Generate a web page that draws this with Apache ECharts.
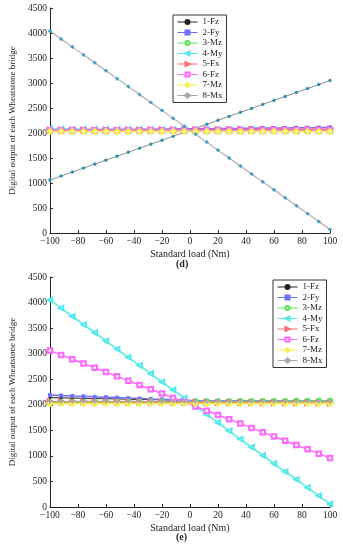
<!DOCTYPE html>
<html>
<head>
<meta charset="utf-8">
<script src="https://cdn.jsdelivr.net/npm/echarts@6/dist/echarts.min.js"></script>
<style>html,body{margin:0;padding:0;background:#fff;}#c{width:343px;height:550px;}</style>
</head>
<body>
<div id="c"></div>
<script>
// ---- data ----
const loads = [-100,-92,-84,-76,-68,-60,-52,-44,-36,-28,-20,-12,-4,4,12,20,28,36,44,52,60,68,76,84,92,100];
const seriesNames = ['1-Fz','2-Fy','3-Mz','4-My','5-Fx','6-Fz','7-Mz','8-Mx'];
const xTicks = [-100,-80,-60,-40,-20,0,20,40,60,80,100];
const yTicks = [0,500,1000,1500,2000,2500,3000,3500,4000,4500];

// chart (d)
const d_Fz1 = [1060,1140,1218,1298,1378,1457,1537,1616,1696,1776,1855,1935,2015,2094,2174,2254,2333,2413,2492,2572,2652,2731,2811,2890,2970,3050];
const d_Fy2 = [2058,2060,2063,2065,2066,2069,2071,2072,2075,2077,2079,2080,2083,2086,2087,2090,2092,2093,2096,2098,2099,2102,2104,2105,2108,2112];
const d_Mz3 = [2040,2041,2040,2042,2041,2040,2041,2042,2040,2041,2042,2041,2040,2041,2042,2041,2040,2042,2041,2040,2041,2042,2041,2040,2041,2042];
const d_My4 = [2082,2080,2079,2078,2076,2075,2074,2073,2071,2070,2069,2068,2066,2065,2064,2063,2061,2060,2059,2058,2056,2055,2054,2053,2051,2050];
const d_Fx5 = [2060,2061,2061,2062,2063,2063,2064,2065,2065,2066,2067,2067,2068,2069,2069,2070,2071,2071,2072,2073,2073,2074,2075,2075,2076,2077];
const d_Fz6 = [2052,2052,2053,2052,2051,2052,2053,2052,2052,2053,2052,2051,2052,2053,2052,2052,2053,2052,2051,2052,2053,2052,2052,2053,2052,2053];
const d_Mz7 = [2030,2031,2030,2029,2030,2031,2030,2030,2029,2031,2030,2030,2031,2030,2029,2030,2031,2030,2030,2029,2031,2030,2030,2031,2030,2029];
const d_Mx8 = [4040,3881,3722,3563,3405,3246,3087,2928,2769,2611,2452,2293,2134,1975,1817,1658,1499,1340,1181,1023,864,705,546,387,229,70];

// chart (e)
const e_Fz1 = [2140,2135,2131,2127,2122,2118,2114,2109,2105,2101,2096,2092,2088,2084,2083,2082,2081,2080,2079,2078,2077,2076,2075,2074,2073,2072];
const e_Fy2 = [2190,2182,2173,2165,2156,2148,2140,2131,2123,2114,2106,2098,2089,2080,2079,2078,2078,2077,2076,2075,2075,2074,2073,2072,2072,2071];
const e_Mz3 = [2050,2051,2052,2053,2054,2055,2056,2057,2058,2059,2060,2061,2062,2063,2064,2065,2066,2067,2068,2069,2070,2071,2072,2073,2074,2075];
const e_My4 = [4050,3890,3730,3570,3410,3250,3090,2930,2770,2610,2450,2290,2130,1970,1810,1650,1490,1330,1170,1010,850,690,540,380,220,60];
const e_Fx5 = [2060,2059,2058,2057,2056,2055,2053,2052,2051,2050,2049,2048,2047,2046,2045,2044,2043,2041,2040,2039,2038,2037,2036,2035,2034,2033];
const e_Fz6 = [3060,2976,2892,2808,2724,2640,2556,2472,2388,2304,2220,2136,2052,1968,1884,1800,1716,1632,1548,1464,1380,1296,1212,1128,1044,960];
const e_Mz7 = [2025,2026,2025,2024,2025,2026,2025,2025,2024,2026,2025,2025,2026,2025,2024,2025,2026,2025,2025,2024,2026,2025,2025,2026,2025,2024];
const e_Mx8 = [2066,2065,2066,2067,2066,2065,2066,2067,2066,2065,2066,2067,2066,2065,2066,2067,2066,2065,2066,2067,2066,2065,2066,2067,2066,2065];

const dData = [d_Fz1,d_Fy2,d_Mz3,d_My4,d_Fx5,d_Fz6,d_Mz7,d_Mx8];
const eData = [e_Fz1,e_Fy2,e_Mz3,e_My4,e_Fx5,e_Fz6,e_Mz7,e_Mx8];

// ---- styles ----
const PLUS = 'path://M4 0h2v4h4v2h-4v4h-2v-4h-4v-2h4z';
const styles = [
  {color:'#222222', symbol:'circle', size:2, rot:0, w:1},
  {color:'#7070ff', symbol:'rect', size:3, rot:0, w:1.5},
  {color:'#55e855', symbol:'emptyCircle', size:4.5, rot:0, w:1.5},
  {color:'#50eaea', symbol:'emptyTriangle', size:4.5, rot:90, w:1.5},
  {color:'#ff6a6a', symbol:'emptyTriangle', size:4.5, rot:-90, w:1.5},
  {color:'#ff66ff', symbol:'emptyRect', size:4.5, rot:0, w:1.5},
  {color:'#f2f24a', symbol:'emptyDiamond', size:5, rot:0, w:1.5},
  {color:'#a8a8a8', symbol:PLUS, size:4, rot:0, w:1.1}
];

const FONT = 'Liberation Serif';
const pairs = arr => loads.map((x,i)=>[x, arr[i]]);

function makeSeries(dataList, axisIdx, isD){
  return dataList.map((arr,i)=>{
    const s = styles[i];
    let lineColor = s.color, itemColor = s.color, sym = s.symbol, size = s.size;
    if (isD && i===0){ lineColor = '#8a8a8a'; itemColor = '#2f8fb0'; size = 2.5; }
    if (isD && i===7){ itemColor = '#3aa0c0'; size = 3; }
    return {
      type:'line', name: seriesNames[i],
      xAxisIndex: axisIdx, yAxisIndex: axisIdx,
      data: pairs(arr),
      symbol: sym, symbolSize: size, symbolRotate: s.rot,
      showAllSymbol: true,
      lineStyle:{color: lineColor, width: s.w},
      itemStyle:{color: itemColor, borderColor: itemColor, borderWidth: 1},
      emphasis:{disabled:true},
      animation:false
    };
  });
}

const legendData = seriesNames.map((n,i)=>({
  name:n,
  itemStyle:{color:styles[i].color, borderColor:styles[i].color},
  lineStyle:{color:styles[i].color, width:1}
}));

function xAxis(gi){
  return {
    type:'value', gridIndex: gi, min:-100, max:100, interval:20,
    name:'Standard load (Nm)', nameLocation:'middle', nameGap:16,
    nameTextStyle:{fontFamily:FONT, fontSize:10, color:'#222'},
    axisLine:{show:true, onZero:false, lineStyle:{color:'#222', width:1}},
    axisTick:{inside:true, length:3, lineStyle:{color:'#222'}},
    axisLabel:{fontFamily:FONT, fontSize:9.5, color:'#222', margin:3,
      formatter: v => v<0 ? '\u2212'+Math.abs(v) : String(v)},
    splitLine:{show:false}
  };
}
function yAxis(gi){
  return {
    type:'value', gridIndex: gi, min:0, max:4500, interval:500,
    name:'Digital output of each Wheatstone bridge', nameLocation:'middle', nameGap:26,
    nameTextStyle:{fontFamily:FONT, fontSize:9, color:'#222'},
    axisLine:{show:true, onZero:false, lineStyle:{color:'#222', width:1}},
    axisTick:{inside:true, length:3, lineStyle:{color:'#222'}},
    axisLabel:{fontFamily:FONT, fontSize:9.5, color:'#222', margin:3, formatter: v => String(v)},
    splitLine:{show:false}
  };
}
function legend(left, top){
  return {
    orient:'vertical', left:left, top:top,
    data: legendData,
    itemWidth:20, itemHeight:5, itemGap:0.5,
    padding:[2,4,2,4],
    borderColor:'#333', borderWidth:1, backgroundColor:'#fff',
    selectedMode:false,
    textStyle:{fontFamily:FONT, fontSize:9, color:'#222', lineHeight:10}
  };
}

const chart = echarts.init(document.getElementById('c'), null, {renderer:'canvas'});
chart.setOption({
  animation:false,
  backgroundColor:'#fff',
  grid:[
    {left:36, right:13, top:8, height:225},
    {left:36, right:13, top:277, height:230}
  ],
  xAxis:[xAxis(0), xAxis(1)],
  yAxis:[yAxis(0), yAxis(1)],
  legend:[legend(173,15), legend(273,280)],
  graphic:[
    {type:'text', left:176, top:259, style:{text:'(d)', font:'bold 10px "Liberation Serif"', fill:'#222'}},
    {type:'text', left:176, top:532, style:{text:'(e)', font:'bold 10px "Liberation Serif"', fill:'#222'}}
  ],
  series: makeSeries(dData,0,true).concat(makeSeries(eData,1,false))
});
</script>
</body>
</html>
